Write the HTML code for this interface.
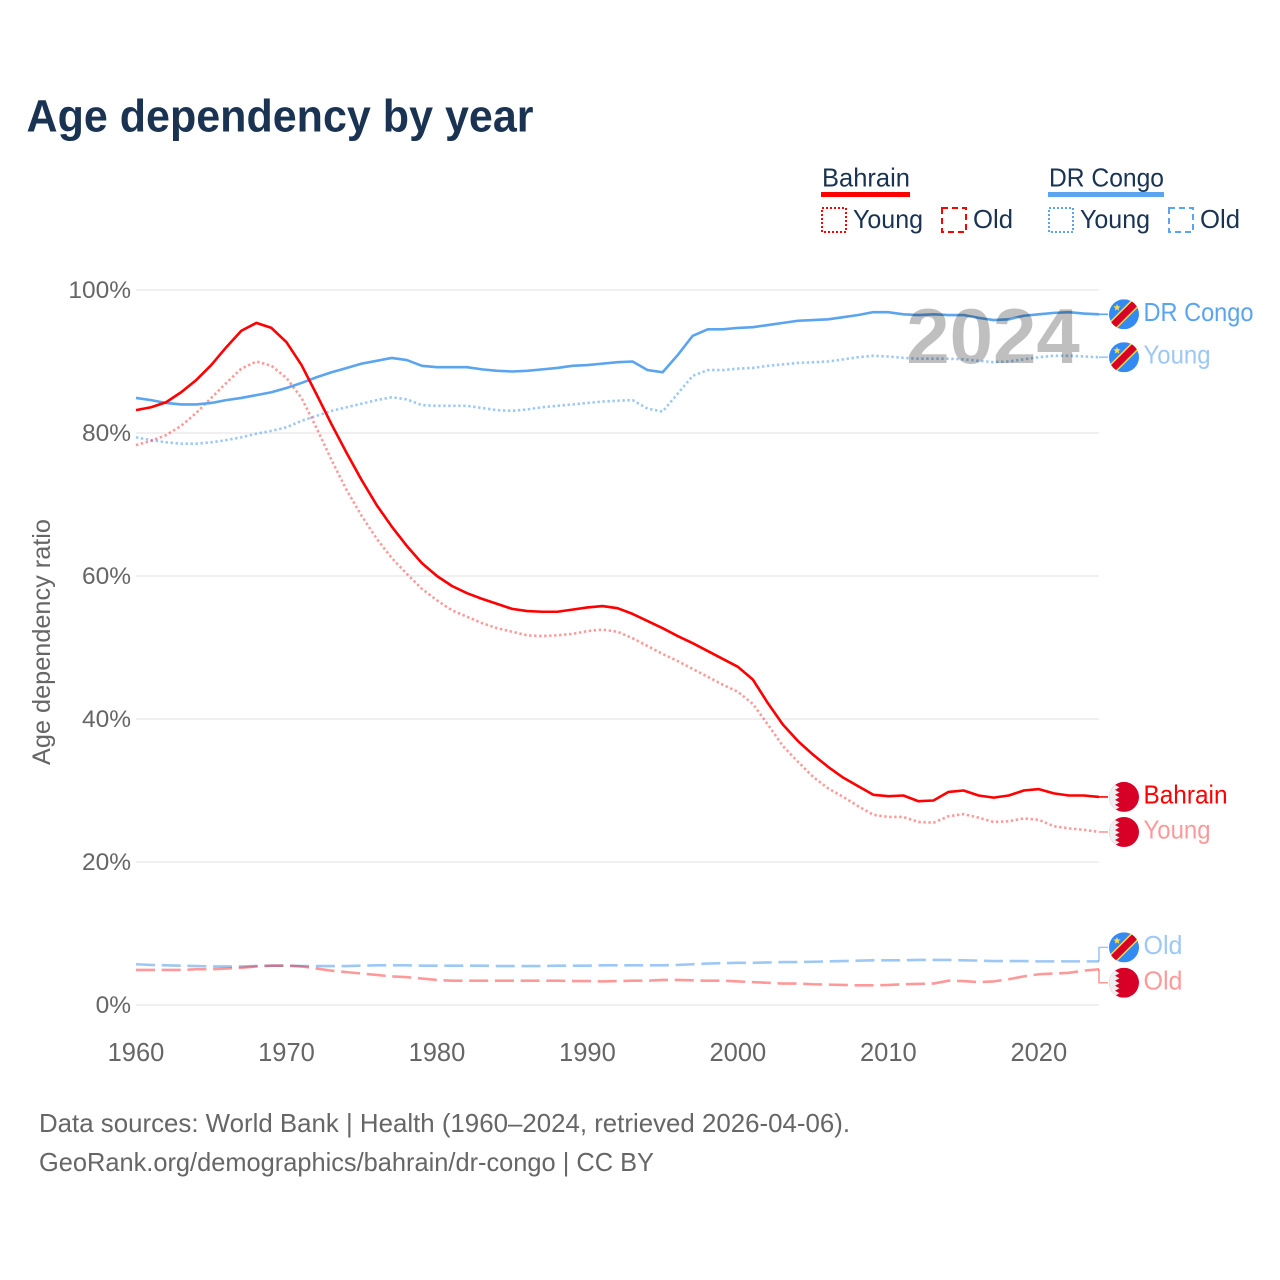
<!DOCTYPE html>
<html lang="en">
<head>
<meta charset="utf-8">
<title>Age dependency by year</title>
<style>
html,body{margin:0;padding:0;background:#fff;}
svg{display:block;font-family:"Liberation Sans",sans-serif;}
</style>
</head>
<body>
<svg id="chart" xmlns="http://www.w3.org/2000/svg" width="1280" height="1280" viewBox="0 0 1280 1280">
  <defs>
    <clipPath id="flag-clip"><circle cx="0" cy="0" r="15"/></clipPath>
  </defs>
  <rect width="1280" height="1280" fill="#fff"/>
  <text x="26.5" y="131.5" font-size="45" font-weight="700" fill="#1a3352" textLength="507" lengthAdjust="spacingAndGlyphs">Age dependency by year</text>

  <g font-size="26" fill="#1a3352">
    <text x="822" y="186.5" textLength="88" lengthAdjust="spacingAndGlyphs">Bahrain</text>
    <rect x="821" y="192" width="89" height="5" fill="#ff0000"/>
    <rect x="822" y="208" width="24" height="24" fill="none" stroke="#ff0000" stroke-width="2" stroke-dasharray="2 2"/>
    <text x="853" y="228" textLength="70" lengthAdjust="spacingAndGlyphs">Young</text>
    <rect x="942" y="208" width="24" height="24" fill="none" stroke="#ff0000" stroke-width="2" stroke-dasharray="6 4"/>
    <text x="973" y="228" textLength="40" lengthAdjust="spacingAndGlyphs">Old</text>
    <text x="1049" y="186.5" textLength="115" lengthAdjust="spacingAndGlyphs">DR Congo</text>
    <rect x="1048" y="192" width="116" height="5" fill="#5ba4ef"/>
    <rect x="1049" y="208" width="24" height="24" fill="none" stroke="#5ba4ef" stroke-width="2" stroke-dasharray="2 2"/>
    <text x="1080" y="228" textLength="70" lengthAdjust="spacingAndGlyphs">Young</text>
    <rect x="1169" y="208" width="24" height="24" fill="none" stroke="#5ba4ef" stroke-width="2" stroke-dasharray="6 4"/>
    <text x="1200" y="228" textLength="40" lengthAdjust="spacingAndGlyphs">Old</text>
  </g>

  <g id="grid"></g>
  <g id="y-ticks" font-size="24.5" fill="#666" text-anchor="end"></g>
  <g id="x-ticks" font-size="25.5" fill="#666" text-anchor="middle"></g>
  <text transform="translate(50,642) rotate(-90)" font-size="25" fill="#666" text-anchor="middle" textLength="246" lengthAdjust="spacingAndGlyphs">Age dependency ratio</text>

  <g id="series"></g>
  <text x="993" y="363" font-size="78" font-weight="700" fill="#000" fill-opacity="0.25" text-anchor="middle">2024</text>
  <g id="end-labels" font-size="26"></g>

  <text x="39" y="1132" font-size="26" fill="#666" textLength="811" lengthAdjust="spacingAndGlyphs">Data sources: World Bank | Health (1960–2024, retrieved 2026-04-06).</text>
  <text x="39" y="1171" font-size="26" fill="#666" textLength="615" lengthAdjust="spacingAndGlyphs">GeoRank.org/demographics/bahrain/dr-congo | CC BY</text>
</svg>
<script>
const startYear = 1960;
const yTickValues = [0, 20, 40, 60, 80, 100];
const xTickYears = [1960, 1970, 1980, 1990, 2000, 2010, 2020];

const bahrainTotal = [83.2,83.6,84.3,85.7,87.4,89.5,92,94.3,95.4,94.7,92.7,89.5,85.4,81.2,77.2,73.4,69.9,66.9,64.2,61.8,60,58.6,57.6,56.8,56.1,55.4,55.1,55,55,55.3,55.6,55.8,55.5,54.7,53.7,52.7,51.6,50.6,49.5,48.4,47.3,45.5,42.2,39.2,36.9,35,33.3,31.8,30.6,29.4,29.2,29.3,28.5,28.6,29.8,30,29.3,29,29.3,30,30.2,29.6,29.3,29.3,29.1];
const bahrainYoung = [78.3,78.9,79.7,81,82.8,84.9,87,89,90,89.4,87.7,84.9,80.7,76.2,72,68.4,65.2,62.5,60.3,58.2,56.6,55.2,54.3,53.4,52.7,52.2,51.7,51.6,51.7,51.9,52.3,52.5,52.2,51.3,50.2,49.1,48.1,47,45.9,44.8,43.8,42.1,39.2,36.2,34,31.9,30.3,29.1,27.8,26.6,26.3,26.3,25.6,25.5,26.4,26.7,26.2,25.6,25.7,26.1,25.9,25,24.7,24.5,24.2];
const bahrainOld = [4.9,4.9,4.9,4.9,5,5,5.1,5.2,5.4,5.5,5.5,5.4,5.1,4.8,4.6,4.4,4.2,4,3.9,3.7,3.5,3.4,3.4,3.4,3.4,3.4,3.4,3.4,3.4,3.35,3.35,3.3,3.35,3.4,3.4,3.5,3.5,3.45,3.4,3.4,3.3,3.2,3.1,3,3,2.9,2.85,2.8,2.75,2.75,2.8,2.9,2.95,3,3.4,3.35,3.2,3.3,3.6,4,4.3,4.4,4.5,4.8,5];
const congoTotal = [84.9,84.6,84.2,84,84,84.2,84.6,84.9,85.3,85.7,86.3,87,87.8,88.5,89.1,89.7,90.1,90.5,90.2,89.4,89.2,89.2,89.2,88.9,88.7,88.6,88.7,88.9,89.1,89.4,89.5,89.7,89.9,90,88.8,88.5,90.9,93.6,94.5,94.5,94.7,94.8,95.1,95.4,95.7,95.8,95.9,96.2,96.5,96.9,96.9,96.6,96.5,96.6,96.5,96.5,96.1,95.8,95.9,96.4,96.6,96.8,96.9,96.7,96.6];
const congoYoung = [79.4,79,78.7,78.5,78.5,78.7,79,79.4,79.9,80.3,80.8,81.7,82.4,83.1,83.6,84.1,84.6,85,84.7,83.9,83.8,83.8,83.8,83.5,83.2,83.1,83.3,83.6,83.8,84,84.2,84.4,84.5,84.6,83.4,83,85.5,88,88.8,88.8,89,89.1,89.4,89.6,89.8,89.9,90,90.3,90.6,90.8,90.7,90.5,90.4,90.4,90.4,90.3,90.1,89.9,90,90.3,90.6,90.8,90.8,90.7,90.6];
const congoOld = [5.7,5.6,5.55,5.5,5.45,5.4,5.4,5.4,5.45,5.5,5.5,5.45,5.45,5.45,5.45,5.5,5.55,5.55,5.55,5.5,5.5,5.5,5.5,5.5,5.45,5.45,5.45,5.45,5.5,5.5,5.5,5.55,5.55,5.55,5.55,5.55,5.6,5.7,5.8,5.85,5.9,5.9,5.95,6,6,6.05,6.1,6.15,6.2,6.25,6.25,6.25,6.3,6.3,6.3,6.25,6.2,6.15,6.15,6.15,6.1,6.1,6.1,6.1,6.1];

const NS = 'http://www.w3.org/2000/svg';
const plotLeft = 136, plotRight = 1099, plotBottom = 1005, plotTop = 290;
function xScale(year) { return plotLeft + (year - 1960) * (plotRight - plotLeft) / 64; }
function yScale(value) { return plotBottom - value * (plotBottom - plotTop) / 100; }
function mk(parent, tag, attrs) {
  const el = document.createElementNS(NS, tag);
  for (const k in attrs) el.setAttribute(k, attrs[k]);
  parent.appendChild(el);
  return el;
}

const gridG = document.getElementById('grid');
const yG = document.getElementById('y-ticks');
yTickValues.forEach(function (v) {
  const line = mk(gridG, 'line', { x1: plotLeft, x2: plotRight, y1: yScale(v), y2: yScale(v), stroke: '#ececec', 'stroke-width': 1.5 });
  
  
  const t = mk(yG, 'text', { x: 131, y: yScale(v) + 8 });
  t.textContent = v + '%';
  
  
});

const xG = document.getElementById('x-ticks');
xTickYears.forEach(function (yr) {
  const t = mk(xG, 'text', { x: xScale(yr), y: 1061 });
  t.textContent = String(yr);
  
  
});

function linePath(values) {
  return values.map(function (v, i) {
    return (i ? 'L' : 'M') + xScale(startYear + i).toFixed(2) + ' ' + yScale(v).toFixed(2);
  }).join('');
}

const seriesG = document.getElementById('series');
const RED = '#ff0000', BLUE = '#5ba4ef';
function drawSeries(name, values, color, opacity, dash, width) {
  const attrs = { d: linePath(values), fill: 'none', stroke: color, 'stroke-opacity': opacity, 'stroke-width': width, 'stroke-linejoin': 'round' };
  if (dash) attrs['stroke-dasharray'] = dash;
  const p = mk(seriesG, 'path', attrs);
  
  
}
drawSeries('line-dr-congo-old', congoOld, BLUE, 0.6, '19 6.7', 2.6);
drawSeries('line-bahrain-old', bahrainOld, RED, 0.4, '19 6.7', 2.6);
drawSeries('line-dr-congo-young', congoYoung, BLUE, 0.6, '2.4 2.6', 2.6);
drawSeries('line-bahrain-young', bahrainYoung, RED, 0.4, '2.4 2.6', 2.6);
drawSeries('line-dr-congo-total', congoTotal, BLUE, 1, null, 2.6);
drawSeries('line-bahrain-total', bahrainTotal, RED, 1, null, 2.6);

const endG = document.getElementById('end-labels');
function drawCongoFlag(g) {
  const c = mk(g, 'g', { 'clip-path': 'url(#flag-clip)' });
  mk(c, 'rect', { x: -15, y: -15, width: 30, height: 30, fill: '#338af3' });
  mk(c, 'line', { x1: -16, y1: 16, x2: 16, y2: -16, stroke: '#ffda44', 'stroke-width': 10 });
  mk(c, 'line', { x1: -16, y1: 16, x2: 16, y2: -16, stroke: '#d80027', 'stroke-width': 7 });
  mk(c, 'polygon', { points: '-7,-10.5 -6,-8 -3.4,-7.9 -5.4,-6.2 -4.8,-3.7 -7,-5 -9.2,-3.7 -8.6,-6.2 -10.6,-7.9 -8,-8', fill: '#ffda44' });
}
function drawBahrainFlag(g) {
  const c = mk(g, 'g', { 'clip-path': 'url(#flag-clip)' });
  mk(c, 'rect', { x: -15, y: -15, width: 30, height: 30, fill: '#d80027' });
  mk(c, 'polygon', { points: '-15,-15 -6,-15 -9,-12 -4.5,-9.5 -9,-7 -4.5,-4.5 -9,-2 -4.5,0.5 -9,3 -4.5,5.5 -9,8 -4.5,10.5 -9,13 -6,15 -15,15', fill: '#efefef' });
}
function drawEnd(name, labelText, values, color, opacity, dodge, isCongo) {
  const lastY = yScale(values[values.length - 1]);
  const labelY = lastY + dodge;
  const g = mk(endG, 'g', {});
  
  
  const d = 'M' + plotRight + ' ' + lastY + 'L' + plotRight + ' ' + labelY + 'L1108 ' + labelY;
  const conn = mk(g, 'path', { d: d, fill: 'none', stroke: color, 'stroke-opacity': opacity, 'stroke-width': 1.6 });
  
  
  const f = mk(g, 'g', { transform: 'translate(1124,' + labelY + ')' });
  
  
  if (isCongo) drawCongoFlag(f); else drawBahrainFlag(f);
  const t = mk(g, 'text', { x: 1143.5, y: labelY + 6.5, fill: color, 'fill-opacity': opacity, textLength: labelText === 'DR Congo' ? 110 : labelText === 'Bahrain' ? 84 : labelText === 'Young' ? 67 : 39, lengthAdjust: 'spacingAndGlyphs' });
  t.textContent = labelText;
  
  
}
drawEnd('end-label-dr-congo', 'DR Congo', congoTotal, BLUE, 1, 0, true);
drawEnd('end-label-dr-congo-young', 'Young', congoYoung, BLUE, 0.6, 0, true);
drawEnd('end-label-bahrain', 'Bahrain', bahrainTotal, RED, 1, 0, false);
drawEnd('end-label-bahrain-young', 'Young', bahrainYoung, RED, 0.4, 0, false);
drawEnd('end-label-dr-congo-old', 'Old', congoOld, BLUE, 0.6, -14, true);
drawEnd('end-label-bahrain-old', 'Old', bahrainOld, RED, 0.4, 13.5, false);
</script>
</body>
</html>
